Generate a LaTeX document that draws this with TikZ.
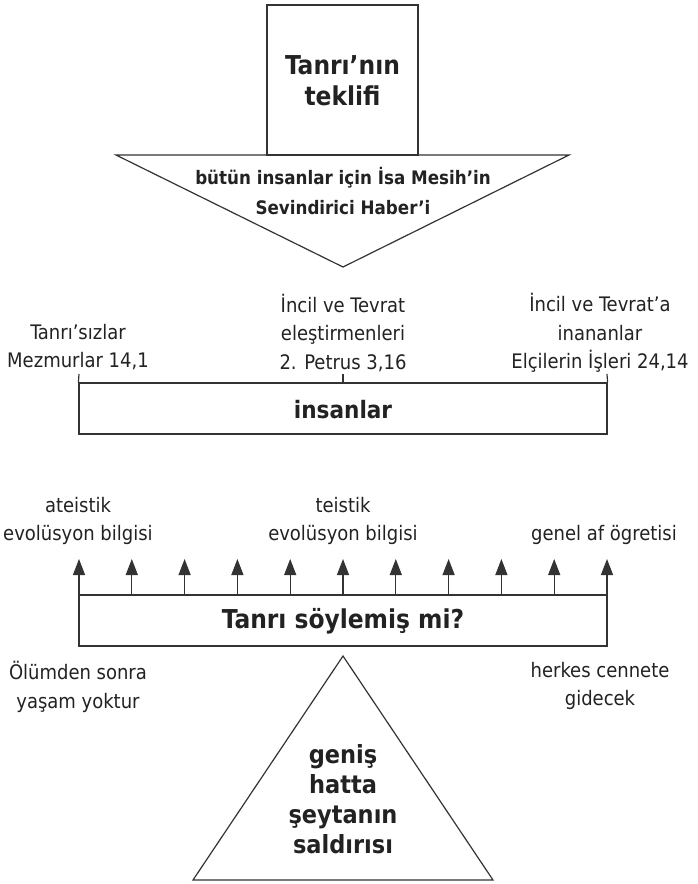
\documentclass[tikz,border=0pt]{standalone}
\usepackage{fontspec}
\setmainfont{DejaVu Sans Condensed}
\usetikzlibrary{arrows.meta}
\definecolor{ink}{HTML}{222222}
\definecolor{edge}{HTML}{333333}
\begin{document}
\begin{tikzpicture}[x=1pt,y=-1pt,
  line/.style={draw=edge,line width=1.2pt},
  lbl/.style={text=ink,align=center,inner sep=0pt,font=\fontsize{20}{28.5}\selectfont},
  big/.style={text=ink,align=center,inner sep=0pt,font=\fontsize{26}{31}\selectfont\bfseries},
  mid/.style={text=ink,align=center,inner sep=0pt,font=\fontsize{18.6}{30}\selectfont\bfseries},
  upar/.style={line,-{Triangle[width=12pt,length=16pt]}}]
\useasboundingbox (0,0) rectangle (698,884);
% top box
\node[line,minimum width=151,minimum height=150,inner sep=0pt] (offer) at (342.5,80) {};
\node[big] (offertxt) at (342.5,81) {Tanrı’nın\\teklifi};
% down triangle
\coordinate (dl) at (116,155);
\coordinate (dr) at (569,155);
\coordinate (dt) at (343,267);
\draw[line,line join=miter] (dl) -- (dr) -- (dt) -- cycle;
\node[mid] (gospel) at (343,191) {bütün insanlar için İsa Mesih’in\\Sevindirici Haber’i};
% people box
\node[line,minimum width=528,minimum height=51,inner sep=0pt] (people) at (343,408.5) {};
\node[big,font=\fontsize{24}{30}\selectfont\bfseries] (peopletxt) at (343,410) {insanlar};
\coordinate (t1) at (79,374);
\coordinate (t2) at (343,374);
\coordinate (t3) at (607,374);
\draw[line] (people.north west) -- (t1);
\draw[line] (people.north) -- (t2);
\draw[line] (people.north east) -- (t3);
\node[lbl] (atheists) at (78,347) {Tanrı’sızlar\\Mezmurlar 14,1};
\node[lbl] (critics) at (343,333) {İncil ve Tevrat\\eleştirmenleri\\2. Petrus 3,16};
\node[lbl] (believers) at (600,333) {İncil ve Tevrat’a\\inananlar\\Elçilerin İşleri 24,14};
% question box
\node[line,minimum width=528,minimum height=51,inner sep=0pt] (question) at (343,620.5) {};
\node[big,font=\fontsize{26}{30}\selectfont\bfseries] (questiontxt) at (343,621) {Tanrı söylemiş mi?};
\foreach \i in {0,...,10}{
  \coordinate (b\i) at ({79+52.8*\i},595);
  \coordinate (a\i) at ({79+52.8*\i},559);
  \draw[upar] (b\i) -- (a\i);
}
\draw[line] (question.north west) -- (question.north east);
\node[lbl] (ateist) at (78,521) {ateistik\\evolüsyon bilgisi};
\node[lbl] (teist) at (343,521) {teistik\\evolüsyon bilgisi};
\node[lbl] (genel) at (604,535) {genel af ögretisi};
\node[lbl] (olum) at (78,687) {Ölümden sonra\\yaşam yoktur};
\node[lbl] (herkes) at (600,686) {herkes cennete\\gidecek};
% up triangle
\coordinate (ut) at (343,656);
\coordinate (ul) at (193,880);
\coordinate (ur) at (493,880);
\draw[line,line join=miter] (ul) -- (ur) -- (ut) -- cycle;
\node[big,font=\fontsize{25}{30}\selectfont\bfseries] (attack) at (343,799) {geniş\\hatta\\şeytanın\\saldırısı};
\end{tikzpicture}
\end{document}
